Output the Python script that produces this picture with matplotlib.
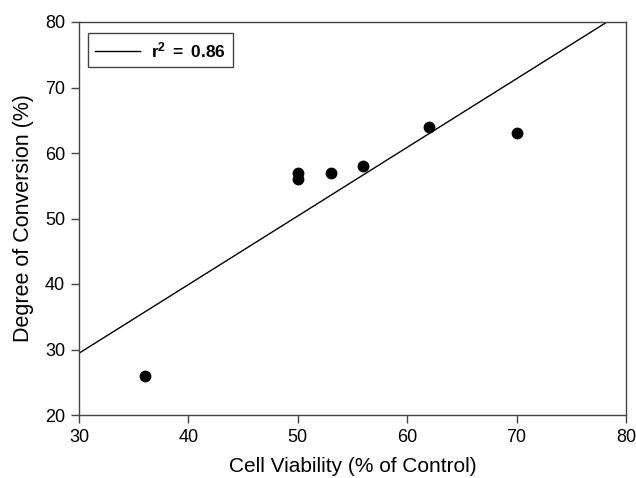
import numpy as np
import matplotlib
matplotlib.use("Agg")
import matplotlib.pyplot as plt

plt.rcParams['font.family'] = ['Liberation Sans', 'DejaVu Sans']
plt.rcParams['mathtext.fontset'] = 'custom'
plt.rcParams['mathtext.rm'] = 'Liberation Sans'
plt.rcParams['mathtext.bf'] = 'Liberation Sans:bold'
plt.rcParams['mathtext.it'] = 'Liberation Sans:italic'

cell_viability = [36, 50, 50, 53, 56, 62, 70]
conversion = [26, 57, 56, 57, 58, 64, 63]
legend_label = r"$\mathbf{r^2\ =\ 0.86}$"

W, H = 636, 478
fig = plt.figure(figsize=(W/100, H/100), dpi=100)
L, R, T, B = 79, 626, 22, 415
ax = fig.add_axes([L/W, 1-B/H, (R-L)/W, (B-T)/H])

slope, intercept = np.polyfit(cell_viability, conversion, 1)
xl = np.array([30, 80])
ax.plot(xl, slope*xl + intercept, color='black', lw=1.0, label=legend_label)
ax.plot(cell_viability, conversion, 'o', color='black', ms=7.5, label='_nolegend_')

ax.set_xlim(30, 80)
ax.set_ylim(20, 80)
ax.set_xticks(range(30, 81, 10))
ax.set_yticks(range(20, 81, 10))
ax.tick_params(direction='out', length=6, width=1, labelsize=13, colors='#444444',
               labelcolor='black', pad=4)
for s in ax.spines.values():
    s.set_color('#444444')
    s.set_linewidth(1.0)
ax.set_xlabel('Cell Viability (% of Control)', fontsize=15, labelpad=8)
ax.set_ylabel('Degree of Conversion (%)', fontsize=15.5, labelpad=8)

leg = ax.legend(loc='upper left', bbox_to_anchor=(88/W, 1-33/H), bbox_transform=fig.transFigure,
                fancybox=False, edgecolor='#444444', framealpha=1,
                prop={'size': 12.5}, handlelength=2.6, handletextpad=0.6,
                borderaxespad=0, borderpad=0.42)
leg.get_frame().set_linewidth(1.0)

fig.savefig('out.png', dpi=100)
